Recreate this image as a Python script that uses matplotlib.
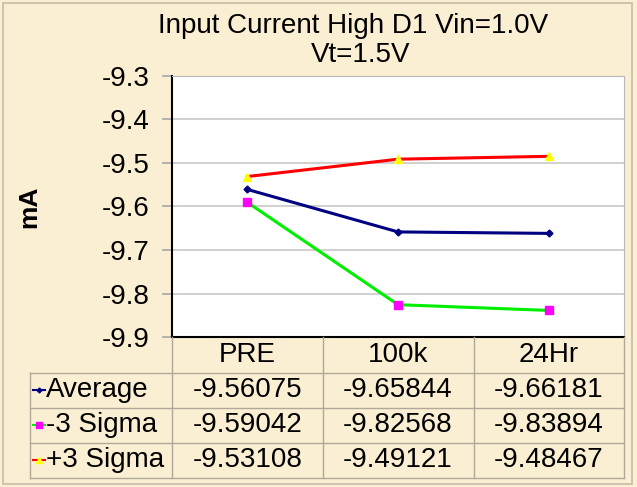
import matplotlib.pyplot as plt
import matplotlib.transforms as mtransforms
from matplotlib.lines import Line2D
from matplotlib.patches import Rectangle

plt.rcParams['font.family'] = ['Liberation Sans', 'DejaVu Sans']

stages = ['PRE', '100k', '24Hr']
average = [-9.56075, -9.65844, -9.66181]
minus_3sigma = [-9.59042, -9.82568, -9.83894]
plus_3sigma = [-9.53108, -9.49121, -9.48467]
series_names = ['Average', '-3 Sigma', '+3 Sigma']
yticks = [-9.3, -9.4, -9.5, -9.6, -9.7, -9.8, -9.9]

W, H = 637, 487
bg = '#FAEFD3'
fig = plt.figure(figsize=(W / 100, H / 100), dpi=100, facecolor=bg)
fig.patches.append(Rectangle((3 / W, 3 / H), 629 / W, 481 / H, transform=fig.transFigure,
                             fill=False, edgecolor='#C8BCA8', lw=1.2))

L, R, T, B = 172, 624, 76, 337
ax = fig.add_axes([L / W, 1 - B / H, (R - L) / W, (B - T) / H])
ax.set_facecolor('white')

x = list(range(len(stages)))
styles = [
    dict(color='#000080', marker='D', markersize=3.5, markerfacecolor='#000080', markeredgecolor='#000080'),
    dict(color='#00EE00', marker='s', markersize=6, markerfacecolor='#FF00FF', markeredgecolor='#FF00FF'),
    dict(color='#FF0000', marker='^', markersize=6, markerfacecolor='#FFFF00', markeredgecolor='#FFFF00'),
]
all_series = [average, minus_3sigma, plus_3sigma]
for vals, st in zip(all_series, styles):
    ax.plot(x, vals, lw=2.2, zorder=3, **st)

ax.set_xlim(-0.5, 2.5)
ax.set_ylim(-9.9, -9.3)
ax.set_yticks(yticks)
ax.set_yticklabels([f'{v:.1f}' for v in yticks], fontsize=20)
ax.yaxis.grid(True, color='#C8C8C8', lw=1.2)
ax.set_axisbelow(True)
ax.tick_params(axis='y', length=7, color='#A8A8A8', width=1.2, pad=9)
ax.set_xticks([])
for s in ['top', 'right']:
    ax.spines[s].set_color('#B8B8B8')
ax.spines['left'].set_color('black')
ax.spines['bottom'].set_color('black')
ax.spines['left'].set_linewidth(1.5)
ax.spines['bottom'].set_linewidth(1.5)

ax.set_ylabel('mA', fontsize=19, fontweight='bold')
ax.yaxis.set_label_coords((41 - L) / (R - L), 0.5)

fig.text(353 / W, 1 - 26 / H, 'Input Current High D1 Vin=1.0V', ha='center', va='center', fontsize=20)
fig.text(361 / W, 1 - 55 / H, 'Vt=1.5V', ha='center', va='center', fontsize=20)


# data table under the plot
def fy(py):
    return 1 - py / H


def fx(px):
    return px / W


grid_c = '#B0A898'
col_edges = [172, 323, 474, 624]
row_edges = [373, 408, 443, 478]
for xe in col_edges:
    fig.add_artist(Line2D([fx(xe), fx(xe)], [fy(B), fy(478)], color=grid_c, lw=1))
fig.add_artist(Line2D([fx(30), fx(30)], [fy(373), fy(478)], color=grid_c, lw=1))
for ye in row_edges:
    fig.add_artist(Line2D([fx(30), fx(624)], [fy(ye), fy(ye)], color=grid_c, lw=1))

blend = mtransforms.blended_transform_factory(ax.transData, fig.transFigure)
for i, s in enumerate(stages):
    ax.text(i, fy(355), s, transform=blend, ha='center', va='center', fontsize=20)

row_centers = [390, 425, 460]
for r, (name, vals, st) in enumerate(zip(series_names, all_series, styles)):
    yc = fy(row_centers[r])
    for i, v in enumerate(vals):
        ax.text(i, yc, f'{v:.5f}', transform=blend, ha='center', va='center', fontsize=20)
    fig.add_artist(Line2D([fx(33), fx(45)], [yc, yc], color=st['color'], lw=1.5))
    fig.add_artist(Line2D([fx(39)], [yc], marker=st['marker'], markersize=st['markersize'] * 0.7,
                          markerfacecolor=st['markerfacecolor'], markeredgecolor=st['markeredgecolor'], lw=0))
    fig.text(fx(46), yc, name, ha='left', va='center', fontsize=20)

fig.savefig('out.png', dpi=100, facecolor=bg)
